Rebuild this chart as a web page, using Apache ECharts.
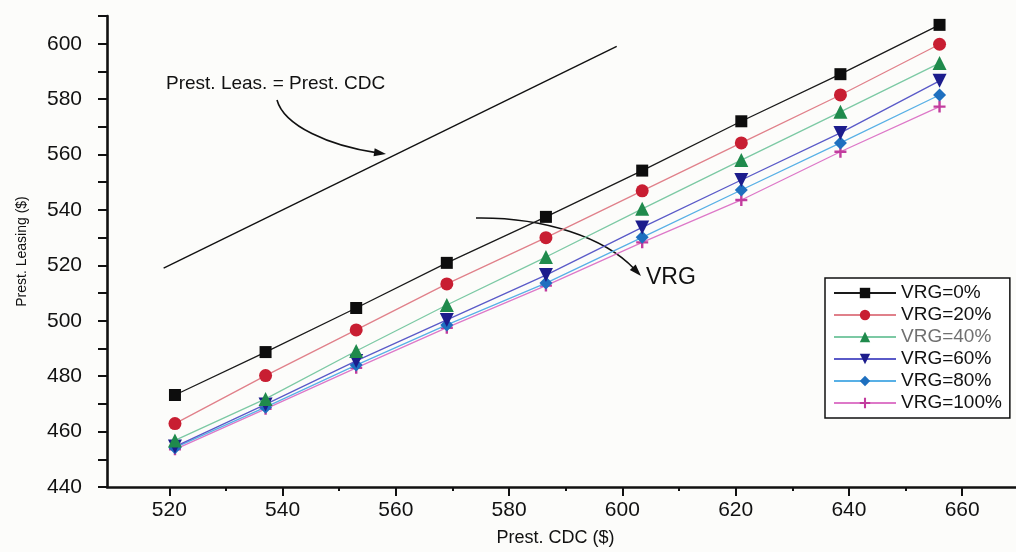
<!DOCTYPE html>
<html>
<head>
<meta charset="utf-8">
<script src="https://cdn.jsdelivr.net/npm/echarts@6.0.0/dist/echarts.min.js"></script>
<style>
  html, body { margin: 0; padding: 0; background: #fcfcfa; }
  #chart { width: 1016px; height: 552px; }
</style>
</head>
<body>
<div id="chart"></div>
<script>
// Prest. CDC values (x)
var cdc = [521, 537, 553, 569, 586.5, 603.5, 621, 638.5, 656];

// Prest. Leasing for each VRG level
var vrg0   = [473.2, 488.7, 504.6, 520.9, 537.5, 554.2, 572.0, 589.0, 606.8];
var vrg20  = [462.9, 480.2, 496.7, 513.3, 530.0, 546.9, 564.2, 581.5, 599.8];
var vrg40  = [456.8, 471.8, 489.1, 505.7, 523.0, 540.4, 558.0, 575.4, 593.0];
var vrg60  = [454.6, 469.8, 485.5, 500.3, 516.5, 533.7, 550.8, 567.8, 586.6];
var vrg80  = [454.2, 468.8, 484.0, 498.5, 513.6, 530.1, 547.2, 564.2, 581.5];
var vrg100 = [453.6, 468.2, 483.0, 497.5, 512.7, 528.3, 543.6, 561.0, 577.3];

var seriesNames = ['VRG=0%', 'VRG=20%', 'VRG=40%', 'VRG=60%', 'VRG=80%', 'VRG=100%'];
var seriesValues = [vrg0, vrg20, vrg40, vrg60, vrg80, vrg100];

// reference line Prest. Leas. = Prest. CDC (from / to)
var equalLine = [519, 599];

var xTicks = [520, 540, 560, 580, 600, 620, 640, 660];
var xMinorTicks = [530, 550, 570, 590, 610, 630, 650];

function pairs(xs, ys) {
    return xs.map(function (x, i) { return [x, ys[i]]; });
}

var plus = 'path://M4,0H6V4H10V6H6V10H4V6H0V4H4Z';

var looks = [
    {line: '#1a1a1a', mark: '#0d0d0d', symbol: 'rect', size: 12, rotate: 0},
    {line: '#e0808a', mark: '#c81e32', symbol: 'circle', size: 13, rotate: 0},
    {line: '#7cc9a4', mark: '#1f8a4c', symbol: 'triangle', size: 14, rotate: 0},
    {line: '#5a5ac8', mark: '#1c1c8c', symbol: 'triangle', size: 14, rotate: 180},
    {line: '#58b0e6', mark: '#1e6fbf', symbol: 'diamond', size: 13, rotate: 0},
    {line: '#dd78c8', mark: '#c23c9e', symbol: plus, size: 12, rotate: 0}
];

var font = "'Liberation Sans', Arial, sans-serif";

var series = seriesNames.map(function (name, i) {
    var l = looks[i];
    return {
        name: name,
        type: 'line',
        data: pairs(cdc, seriesValues[i]),
        symbol: l.symbol,
        symbolSize: l.size,
        symbolRotate: l.rotate,
        itemStyle: {color: l.mark},
        lineStyle: {color: l.line, width: 1.3},
        z: 10 - i
    };
});

series.push({
    name: 'equal',
    type: 'line',
    data: [[equalLine[0], equalLine[0]], [equalLine[1], equalLine[1]]],
    symbol: 'none',
    lineStyle: {color: '#111', width: 1.4},
    silent: true
});

// curved annotation arrow, pixel coords
function curveArrow(p0, c1, c2, p3) {
    var dx = p3[0] - c2[0], dy = p3[1] - c2[1];
    var len = Math.sqrt(dx * dx + dy * dy);
    dx /= len; dy /= len;
    var L = 12, W = 4;
    var bx = p3[0] - dx * L, by = p3[1] - dy * L;
    return [
        {
            type: 'bezierCurve',
            shape: {x1: p0[0], y1: p0[1], cpx1: c1[0], cpy1: c1[1], cpx2: c2[0], cpy2: c2[1], x2: bx + dx * 2, y2: by + dy * 2},
            style: {stroke: '#111', lineWidth: 1.6, fill: null}
        },
        {
            type: 'polygon',
            shape: {points: [p3, [bx - dy * W, by + dx * W], [bx + dy * W, by - dx * W]]},
            style: {fill: '#111'}
        }
    ];
}

var graphics = []
    .concat(curveArrow([277, 100], [284, 126], [330, 146], [386, 154]))
    .concat(curveArrow([476, 218], [545, 217], [605, 238], [641, 276]))
    .concat([
        {
            type: 'text', left: 166, top: 74,
            style: {text: 'Prest. Leas. = Prest. CDC', fontSize: 19, fontFamily: font, fill: '#111'}
        },
        {
            type: 'text', left: 646, top: 266,
            style: {text: 'VRG', fontSize: 23, fontFamily: font, fill: '#111'}
        }
    ]);

var chart = echarts.init(document.getElementById('chart'));

chart.setOption({
    backgroundColor: '#fcfcfa',
    animation: false,
    grid: {left: 107, right: 0, top: 16, bottom: 65, outerBoundsMode: 'none'},
    xAxis: [{
        type: 'value',
        min: 509,
        max: 669.5,
        axisLine: {lineStyle: {color: '#111', width: 2.6}},
        axisTick: {customValues: xTicks, length: 9, lineStyle: {color: '#111', width: 2}},
        axisLabel: {customValues: xTicks, margin: 13, fontSize: 21, color: '#111', fontFamily: font},
        splitLine: {show: false},
        name: 'Prest. CDC ($)',
        nameLocation: 'middle',
        nameGap: 42,
        nameTextStyle: {fontSize: 18, color: '#111', fontFamily: font, padding: [0, 12, 0, 0]}
    }, {
        type: 'value',
        min: 509,
        max: 669.5,
        position: 'bottom',
        axisLine: {show: false},
        axisTick: {customValues: xMinorTicks, length: 4, lineStyle: {color: '#111', width: 2}},
        axisLabel: {show: false},
        splitLine: {show: false}
    }],
    yAxis: {
        type: 'value',
        min: 440,
        max: 610,
        interval: 10,
        axisLine: {show: true, lineStyle: {color: '#111', width: 2.6}},
        axisTick: {show: true, length: 9, lineStyle: {color: '#111', width: 2}},
        axisLabel: {
            margin: 25, fontSize: 21, color: '#111', fontFamily: font,
            formatter: function (v) { return (v % 20 === 0 && v <= 600) ? v : ''; }
        },
        splitLine: {show: false},
        name: 'Prest. Leasing ($)',
        nameLocation: 'middle',
        nameGap: 78,
        nameTextStyle: {fontSize: 14, color: '#111', fontFamily: font}
    },
    legend: {
        orient: 'vertical',
        left: 825,
        top: 278,
        padding: [5, 8, 5, 8],
        itemWidth: 62,
        itemHeight: 13,
        itemGap: 2,
        backgroundColor: '#fff',
        borderColor: '#111',
        borderWidth: 1.5,
        textStyle: {fontSize: 19, lineHeight: 20, color: '#111', fontFamily: font},
        data: seriesNames.map(function (n, i) {
            return i === 2 ? {name: n, textStyle: {color: '#707070'}} : {name: n};
        })
    },
    graphic: graphics,
    series: series
});
</script>
</body>
</html>
